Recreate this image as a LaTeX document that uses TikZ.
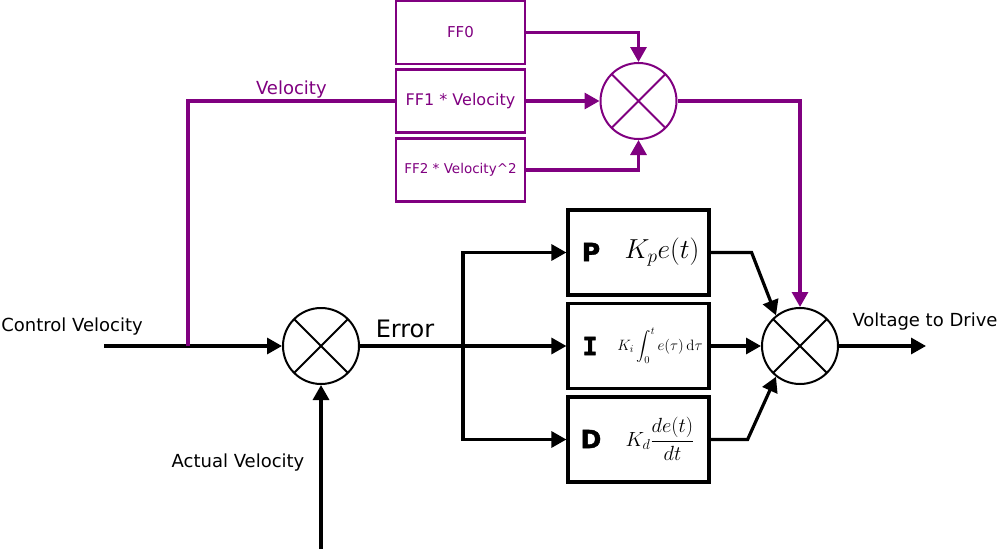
\RequirePackage{fix-cm}
\documentclass[tikz,border=0pt]{standalone}
\usepackage{amsmath}
\usepackage[no-math]{fontspec}
\setmainfont{DejaVu Sans}
\newfontfamily\pidfont[FakeBold=1.6]{DejaVu Sans Bold}
\newfontfamily\pidmono[FakeBold=1.6]{DejaVu Sans Mono Bold}
\usetikzlibrary{arrows.meta,positioning}

\definecolor{ffpurple}{RGB}{128,0,128}

\tikzset{
  sumnode/.style={draw, circle, line width=2pt, minimum size=76pt, inner sep=0pt,
    path picture={
      \draw[line width=1.8pt] (path picture bounding box.north west) -- (path picture bounding box.south east);
      \draw[line width=1.8pt] (path picture bounding box.north east) -- (path picture bounding box.south west);
    }},
  ffbox/.style={draw=ffpurple, line width=2.5pt, minimum width=129pt, minimum height=63pt,
    inner sep=0pt, text=ffpurple},
  pidbox/.style={draw, line width=3.2pt, minimum width=141pt, minimum height=85pt, inner sep=0pt},
  pidletter/.style={font=\fontsize{25}{25}\pidfont, inner sep=0pt},
  sigline/.style={line width=3.2pt, -{Triangle[length=15pt,width=16pt]}},
  ffline/.style={sigline, draw=ffpurple},
  lbl/.style={font=\fontsize{18}{20}\selectfont, inner sep=0pt}
}

\begin{document}
\begin{tikzpicture}[x=1pt, y=-1pt]
  \useasboundingbox (0,0) rectangle (1001,549);

  % feed forward terms
  \node[ffbox, font=\fontsize{15}{15}\selectfont] (ff0) at (460.5,32.5) {FF0};
  \node[ffbox, font=\fontsize{16}{16}\selectfont] (ff1) at (460.5,101) {FF1 * Velocity};
  \node[ffbox, font=\fontsize{13.5}{14}\selectfont] (ff2) at (460.5,170) {FF2 * Velocity\^{}2};
  \node[sumnode, draw=ffpurple, path picture={\draw[ffpurple, line width=1.8pt]
      (path picture bounding box.north west) -- (path picture bounding box.south east)
      (path picture bounding box.north east) -- (path picture bounding box.south west);}]
    (ffsum) at (638.5,101) {};

  % summing junctions
  \node[sumnode] (errsum) at (321,346) {};
  \node[sumnode] (outsum) at (800,346) {};

  % P, I and D blocks
  \node[pidbox] (pbox) at (638.5,252.5) {};
  \node[pidbox] (ibox) at (638.5,346) {};
  \node[pidbox] (dbox) at (638.5,439.5) {};
  \node[pidletter] (pname) at (591,252) {P};
  \node[pidletter, font=\fontsize{25}{25}\pidmono] (iname) at (590,346) {I};
  \node[pidletter] (dname) at (591,439) {D};
  \node[inner sep=0pt, font=\fontsize{27.5}{27.5}\selectfont] (pterm) at (662,252) {$K_pe(t)$};
  \node[inner sep=0pt, font=\fontsize{15}{15}\selectfont] (iterm) at (660,346) {$K_i\displaystyle\int_0^t e(\tau)\,\mathrm{d}\tau$};
  \node[inner sep=0pt, font=\fontsize{20.5}{20.5}\selectfont] (dterm) at (660,439) {$K_d\dfrac{de(t)}{dt}$};

  % free ends and branch points
  \coordinate (ctrlin) at (104,346);
  \coordinate (vtap) at (188,346);
  \coordinate (actin) at (321,549);
  \coordinate (ebranch) at (463,346);
  \coordinate (vout) at (926,346);

  % labels
  \node[lbl] (ctrllbl) at (72,327) {Control Velocity};
  \node[lbl] (actlbl) at (238,463) {Actual Velocity};
  \node[lbl, font=\fontsize{24}{24}\selectfont] (errlbl) at (405,329) {Error};
  \node[lbl] (outlbl) at (925,322) {Voltage to Drive};

  % main loop
  \draw[sigline] (ctrlin) -- (errsum);
  \draw[sigline] (actin) -- (errsum);
  \draw[sigline] (errsum) -- (ibox);
  \draw[sigline] (ebranch) |- (pbox.west);
  \draw[sigline] (ebranch) |- (dbox.west);
  \draw[sigline] (pbox.east) -- ++(41,0) -- (outsum.128);
  \draw[sigline] (ibox) -- (outsum);
  \draw[sigline] (dbox.east) -- ++(37,0) -- (outsum.232);
  \draw[sigline] (outsum) -- (vout);

  % feed forward paths
  \draw[ffline, -] (vtap) |- (ff1.west)
    node[pos=0.75, above=1pt, lbl, text=ffpurple] (vlbl) {Velocity};
  \draw[ffline] (ff0.east) -| (ffsum);
  \draw[ffline] (ff1) -- (ffsum);
  \draw[ffline] (ff2.east) -| (ffsum);
  \draw[ffline] (ffsum) -| (outsum);
\end{tikzpicture}
\end{document}
